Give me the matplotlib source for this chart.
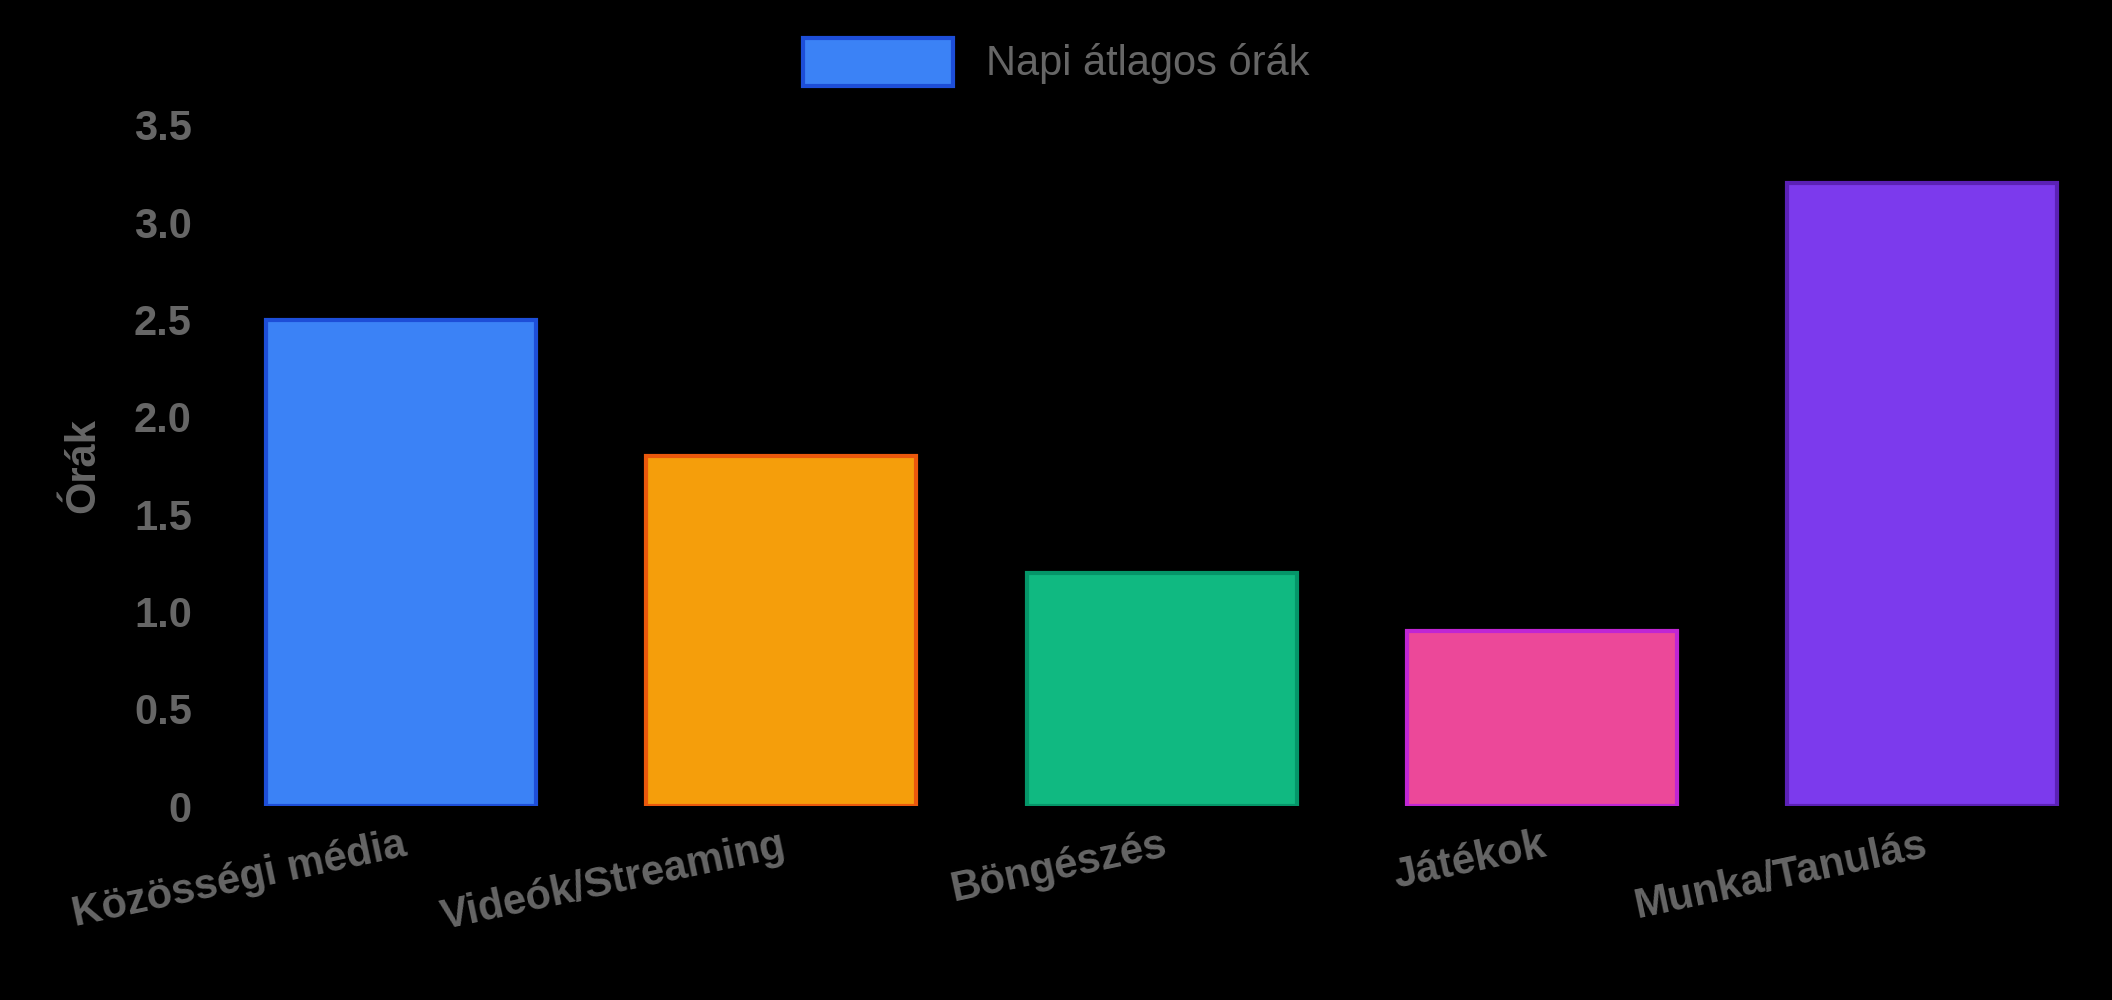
import matplotlib
matplotlib.use("Agg")
import matplotlib.pyplot as plt

categories = ["Közösségi média", "Videók/Streaming", "Böngészés", "Játékok", "Munka/Tanulás"]
values = [2.5, 1.8, 1.2, 0.9, 3.2]
face_colors = ["#3b82f6", "#f59e0b", "#10b981", "#ec4899", "#7c3aed"]
edge_colors = ["#1d4ed8", "#ea580c", "#059669", "#c026d3", "#5b21b6"]
yticks = [0, 0.5, 1.0, 1.5, 2.0, 2.5, 3.0, 3.5]
ytick_labels = ["0", "0.5", "1.0", "1.5", "2.0", "2.5", "3.0", "3.5"]

plt.rcParams['font.family'] = ['Liberation Sans', 'DejaVu Sans']
fig = plt.figure(figsize=(21.12, 10), dpi=100, facecolor='black')
ax = fig.add_axes([0.1, 0.194, 0.9, 0.681], facecolor='black')
x = range(len(categories))
bars = ax.bar(x, values, width=0.71, color=face_colors, edgecolor=edge_colors, linewidth=3,
              label="Napi átlagos órák", zorder=2)
ax.set_ylim(0, 3.5)
ax.set_xlim(-0.5, len(categories) - 0.5)
ax.set_yticks(yticks)
ax.set_yticklabels(ytick_labels)
ax.set_xticks(list(x))
ax.set_xticklabels(categories, rotation=12, ha='right', rotation_mode='anchor')
ax.tick_params(colors='#666666', labelsize=30, length=0, pad=14)
for t in ax.get_xticklabels() + ax.get_yticklabels():
    t.set_fontweight('bold')
for s in ax.spines.values():
    s.set_visible(False)
ax.set_ylabel("Órák", color='#666666', fontsize=30, fontweight='bold', labelpad=22)
leg = fig.legend(handles=[bars.patches[0]], labels=["Napi átlagos órák"], loc='upper center',
                 bbox_to_anchor=(0.5, 1.0), frameon=False, fontsize=30, labelcolor='#666666',
                 handlelength=3.6, handleheight=1.4)
leg.legend_handles[0].set_edgecolor('#1d4ed8')
fig.savefig("out.png", dpi=100, facecolor='black')
